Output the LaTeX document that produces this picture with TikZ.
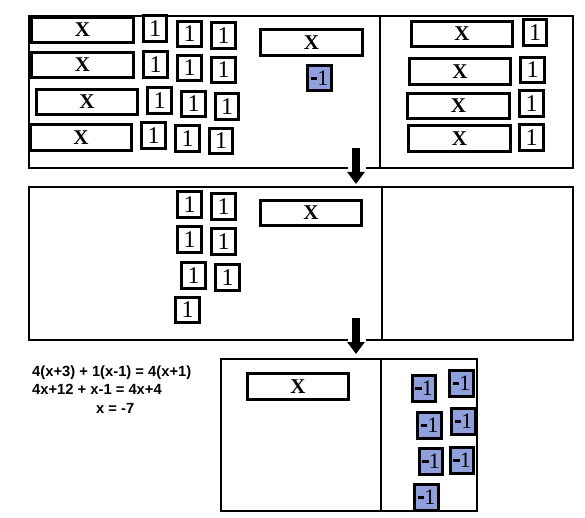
\documentclass[tikz,border=0pt]{standalone}
\usepackage{fontspec}
\setmainfont{Liberation Serif}
\newfontfamily\eqfont{Liberation Sans}
\usetikzlibrary{arrows.meta}
\definecolor{tileblue}{RGB}{143,160,220}
\newcommand{\negone}{\rule[5.5pt]{6.5pt}{3pt}\kern0.3pt 1}
\begin{document}
\begin{tikzpicture}[x=1pt,y=-1pt,
 xtile/.style={draw, line width=3.4pt, fill=white, minimum width=101.5pt, minimum height=25.5pt, inner sep=0pt, font=\fontsize{21}{21}\selectfont\bfseries},
 onetile/.style={draw, line width=3.4pt, fill=white, minimum width=23.5pt, minimum height=25.5pt, inner sep=0pt, font=\fontsize{24}{24}\selectfont},
 negtile/.style={onetile, fill=tileblue, font=\fontsize{22}{22}\selectfont},
 panel/.style={draw, line width=2pt, inner sep=0pt},
 divider/.style={line width=2pt},
 eq/.style={anchor=base west, inner sep=0pt, font=\eqfont\fontsize{14.75}{18}\selectfont\bfseries},
 downarrow/.style={line width=8pt, -{Triangle[width=17pt,length=12pt]}}
]
\useasboundingbox (0,0) rectangle (585,518);
% panels
\node[panel, minimum width=544pt, minimum height=152pt] (ptop) at (301,92) {};
\draw[divider] (380,16) -- (380,168);
\node[panel, minimum width=544pt, minimum height=153pt] (pmid) at (301,263.5) {};
\draw[divider] (382,187) -- (382,340);
\node[panel, minimum width=256pt, minimum height=152pt] (pbot) at (349,435) {};
\draw[divider] (381,359) -- (381,511);
% arrows
\coordinate (a1s) at (356,148); \coordinate (a1e) at (356,184);
\coordinate (a2s) at (356,318); \coordinate (a2e) at (356,354);
\fill[white] (348,165) rectangle (366,173);
\fill[white] (348,336) rectangle (366,344);
\draw[downarrow] (a1s) -- (a1e);
\draw[downarrow] (a2s) -- (a2e);
% top left
\node[xtile] (tx1) at (82.5,30) {X};
\node[xtile] (tx2) at (82.5,65) {X};
\node[xtile] (tx3) at (87,102) {X};
\node[xtile] (tx4) at (81,137.5) {X};
\node[onetile] (t11) at (155,28.5) {1};
\node[onetile] (t12) at (189.5,34) {1};
\node[onetile] (t13) at (223.5,35.5) {1};
\node[onetile] (t21) at (155.5,64.5) {1};
\node[onetile] (t22) at (189.5,68) {1};
\node[onetile] (t23) at (223.5,70) {1};
\node[onetile] (t31) at (159.5,100.5) {1};
\node[onetile] (t32) at (193.5,104) {1};
\node[onetile] (t33) at (227,106.5) {1};
\node[onetile] (t41) at (153.5,135.5) {1};
\node[onetile] (t42) at (187.5,138.5) {1};
\node[onetile] (t43) at (221,141) {1};
\node[xtile] (tmx) at (311.5,42.5) {X};
\node[negtile] (tmn) at (319.5,78) {\negone};
% top right
\node[xtile] (trx1) at (462,34) {X};
\node[xtile] (trx2) at (460,71.5) {X};
\node[xtile] (trx3) at (458.5,106) {X};
\node[xtile] (trx4) at (459.5,138.5) {X};
\node[onetile] (tr1) at (535,32.5) {1};
\node[onetile] (tr2) at (532.5,70) {1};
\node[onetile] (tr3) at (531.5,103.5) {1};
\node[onetile] (tr4) at (531.5,137.5) {1};
% middle
\node[onetile] (m1) at (189.5,204.5) {1};
\node[onetile] (m2) at (223.5,206.5) {1};
\node[onetile] (m3) at (189.5,239.5) {1};
\node[onetile] (m4) at (223.5,241.5) {1};
\node[onetile] (m5) at (193.5,275.5) {1};
\node[onetile] (m6) at (227.5,277.5) {1};
\node[onetile] (m7) at (187.5,310) {1};
\node[xtile] (mx) at (311,213) {X};
% bottom
\node[xtile] (bx) at (298,386.5) {X};
\node[negtile] (b1) at (424,388.5) {\negone};
\node[negtile] (b2) at (461.5,383.5) {\negone};
\node[negtile] (b3) at (429.5,425.5) {\negone};
\node[negtile] (b4) at (463.5,421.5) {\negone};
\node[negtile] (b5) at (431,461.5) {\negone};
\node[negtile] (b6) at (462,460.5) {\negone};
\node[negtile] (b7) at (426.5,497.5) {\negone};
% equations
\node[eq] (e1) at (32,376) {4(x+3) + 1(x-1) = 4(x+1)};
\node[eq] (e2) at (32,394) {4x+12 + x-1 = 4x+4};
\node[eq] (e3) at (96,413) {x = -7};
\end{tikzpicture}
\end{document}
